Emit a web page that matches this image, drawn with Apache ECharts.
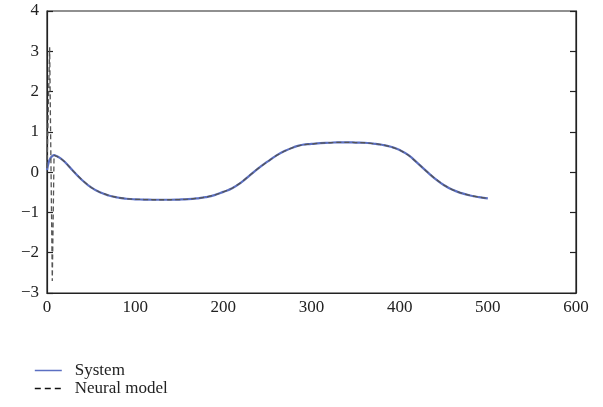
<!DOCTYPE html>
<html>
<head>
<meta charset="utf-8">
<script src="https://cdn.jsdelivr.net/npm/echarts@6/dist/echarts.min.js"></script>
<style>html,body{margin:0;padding:0;background:#fff}#c{width:603px;height:407px}</style>
</head>
<body>
<div id="c"></div>
<script>
const xTicks = [0, 100, 200, 300, 400, 500, 600];
const yTicks = [-3, -2, -1, 0, 1, 2, 3, 4];
const systemX = [0,2,4,6,8,10,15,20,30,40,50,60,70,80,90,100,110,120,130,140,150,160,170,180,190,200,210,220,230,240,250,260,270,280,290,300,310,320,330,340,350,360,370,380,390,400,410,420,430,440,450,460,470,480,490,500];
const systemY = [0.05,0.25,0.35,0.40,0.42,0.41,0.35,0.26,0.02,-0.2,-0.38,-0.50,-0.58,-0.63,-0.66,-0.675,-0.68,-0.685,-0.685,-0.685,-0.68,-0.67,-0.65,-0.62,-0.57,-0.49,-0.40,-0.26,-0.08,0.10,0.26,0.41,0.53,0.62,0.68,0.70,0.72,0.73,0.74,0.74,0.735,0.73,0.71,0.68,0.63,0.55,0.42,0.23,0.03,-0.16,-0.32,-0.44,-0.52,-0.58,-0.62,-0.65];
const neuralX = [0,3,6,8,10,15,20,30,40,50,60,70,80,90,100,110,120,130,140,150,160,170,180,190,200,210,220,230,240,250,260,270,280,290,300,310,320,330,340,350,360,370,380,390,400,410,420,430,440,450,460,470,480,490,500];
const neuralY = [0.1,3.1,-2.7,0.42,0.41,0.35,0.26,0.02,-0.2,-0.38,-0.50,-0.58,-0.63,-0.66,-0.675,-0.68,-0.685,-0.685,-0.685,-0.68,-0.67,-0.65,-0.62,-0.57,-0.49,-0.40,-0.26,-0.08,0.10,0.26,0.41,0.53,0.62,0.68,0.70,0.72,0.73,0.74,0.74,0.735,0.73,0.71,0.68,0.63,0.55,0.42,0.23,0.03,-0.16,-0.32,-0.44,-0.52,-0.58,-0.62,-0.65];

const font = 'Liberation Serif';
const chart = echarts.init(document.getElementById('c'), null, {renderer: 'canvas'});
const minus = v => String(v).replace('-', '\u2212');
chart.setOption({
  animation: false,
  backgroundColor: '#fff',
  grid: {left: 47, right: 27, top: 11, bottom: 114, show: true, borderColor: '#222', borderWidth: 1.2, containLabel: false},
  legend: {
    orient: 'vertical', left: 34, top: 362, padding: 0, itemGap: 1, itemWidth: 27, itemHeight: 17,
    itemStyle: {color: 'rgba(0,0,0,0)', borderWidth: 0, opacity: 0},
    textStyle: {fontFamily: font, fontSize: 17, color: '#222', padding: [0, 0, 0, 8]},
    data: [
      {name: 'System', lineStyle: {color: '#5b6fc2', width: 1.5, type: 'solid'}},
      {name: 'Neural model', lineStyle: {color: '#111', width: 1.6, type: [6, 4]}}
    ]
  },
  xAxis: {
    type: 'value', min: xTicks[0], max: xTicks[xTicks.length-1], interval: 100,
    axisLine: {show: true, onZero: false, lineStyle: {color: '#222', width: 1.2}},
    axisTick: {show: false},
    splitLine: {show: false},
    axisLabel: {fontFamily: font, fontSize: 17, color: '#222', margin: 6, formatter: minus}
  },
  yAxis: [{
    type: 'value', min: yTicks[0], max: yTicks[yTicks.length-1], interval: 1,
    axisLine: {show: true, lineStyle: {color: '#222', width: 1.2}},
    axisTick: {show: true, inside: true, length: 6, lineStyle: {color: '#222', width: 1.2}},
    splitLine: {show: false},
    axisLabel: {fontFamily: font, fontSize: 17, color: '#222', margin: 8, formatter: minus}
  }, {
    type: 'value', min: yTicks[0], max: yTicks[yTicks.length-1], interval: 1, position: 'right',
    axisLine: {show: true, lineStyle: {color: '#222', width: 1.2}},
    axisTick: {show: true, inside: true, length: 6, lineStyle: {color: '#222', width: 1.2}},
    splitLine: {show: false},
    axisLabel: {show: false}
  }],
  series: [{
    name: 'System', type: 'line', symbol: 'none', showSymbol: false, smooth: true,
    data: systemX.map((x, i) => [x, systemY[i]]),
    lineStyle: {color: '#5b6fc2', width: 2.2},
    itemStyle: {color: '#5b6fc2'}
  }, {
    name: 'Neural model', type: 'line', symbol: 'none', showSymbol: false, smooth: false,
    data: neuralX.map((x, i) => [x, neuralY[i]]),
    lineStyle: {color: '#555', width: 1.3, type: [5, 3]},
    itemStyle: {color: '#111'}
  }]
});
</script>
</body>
</html>
